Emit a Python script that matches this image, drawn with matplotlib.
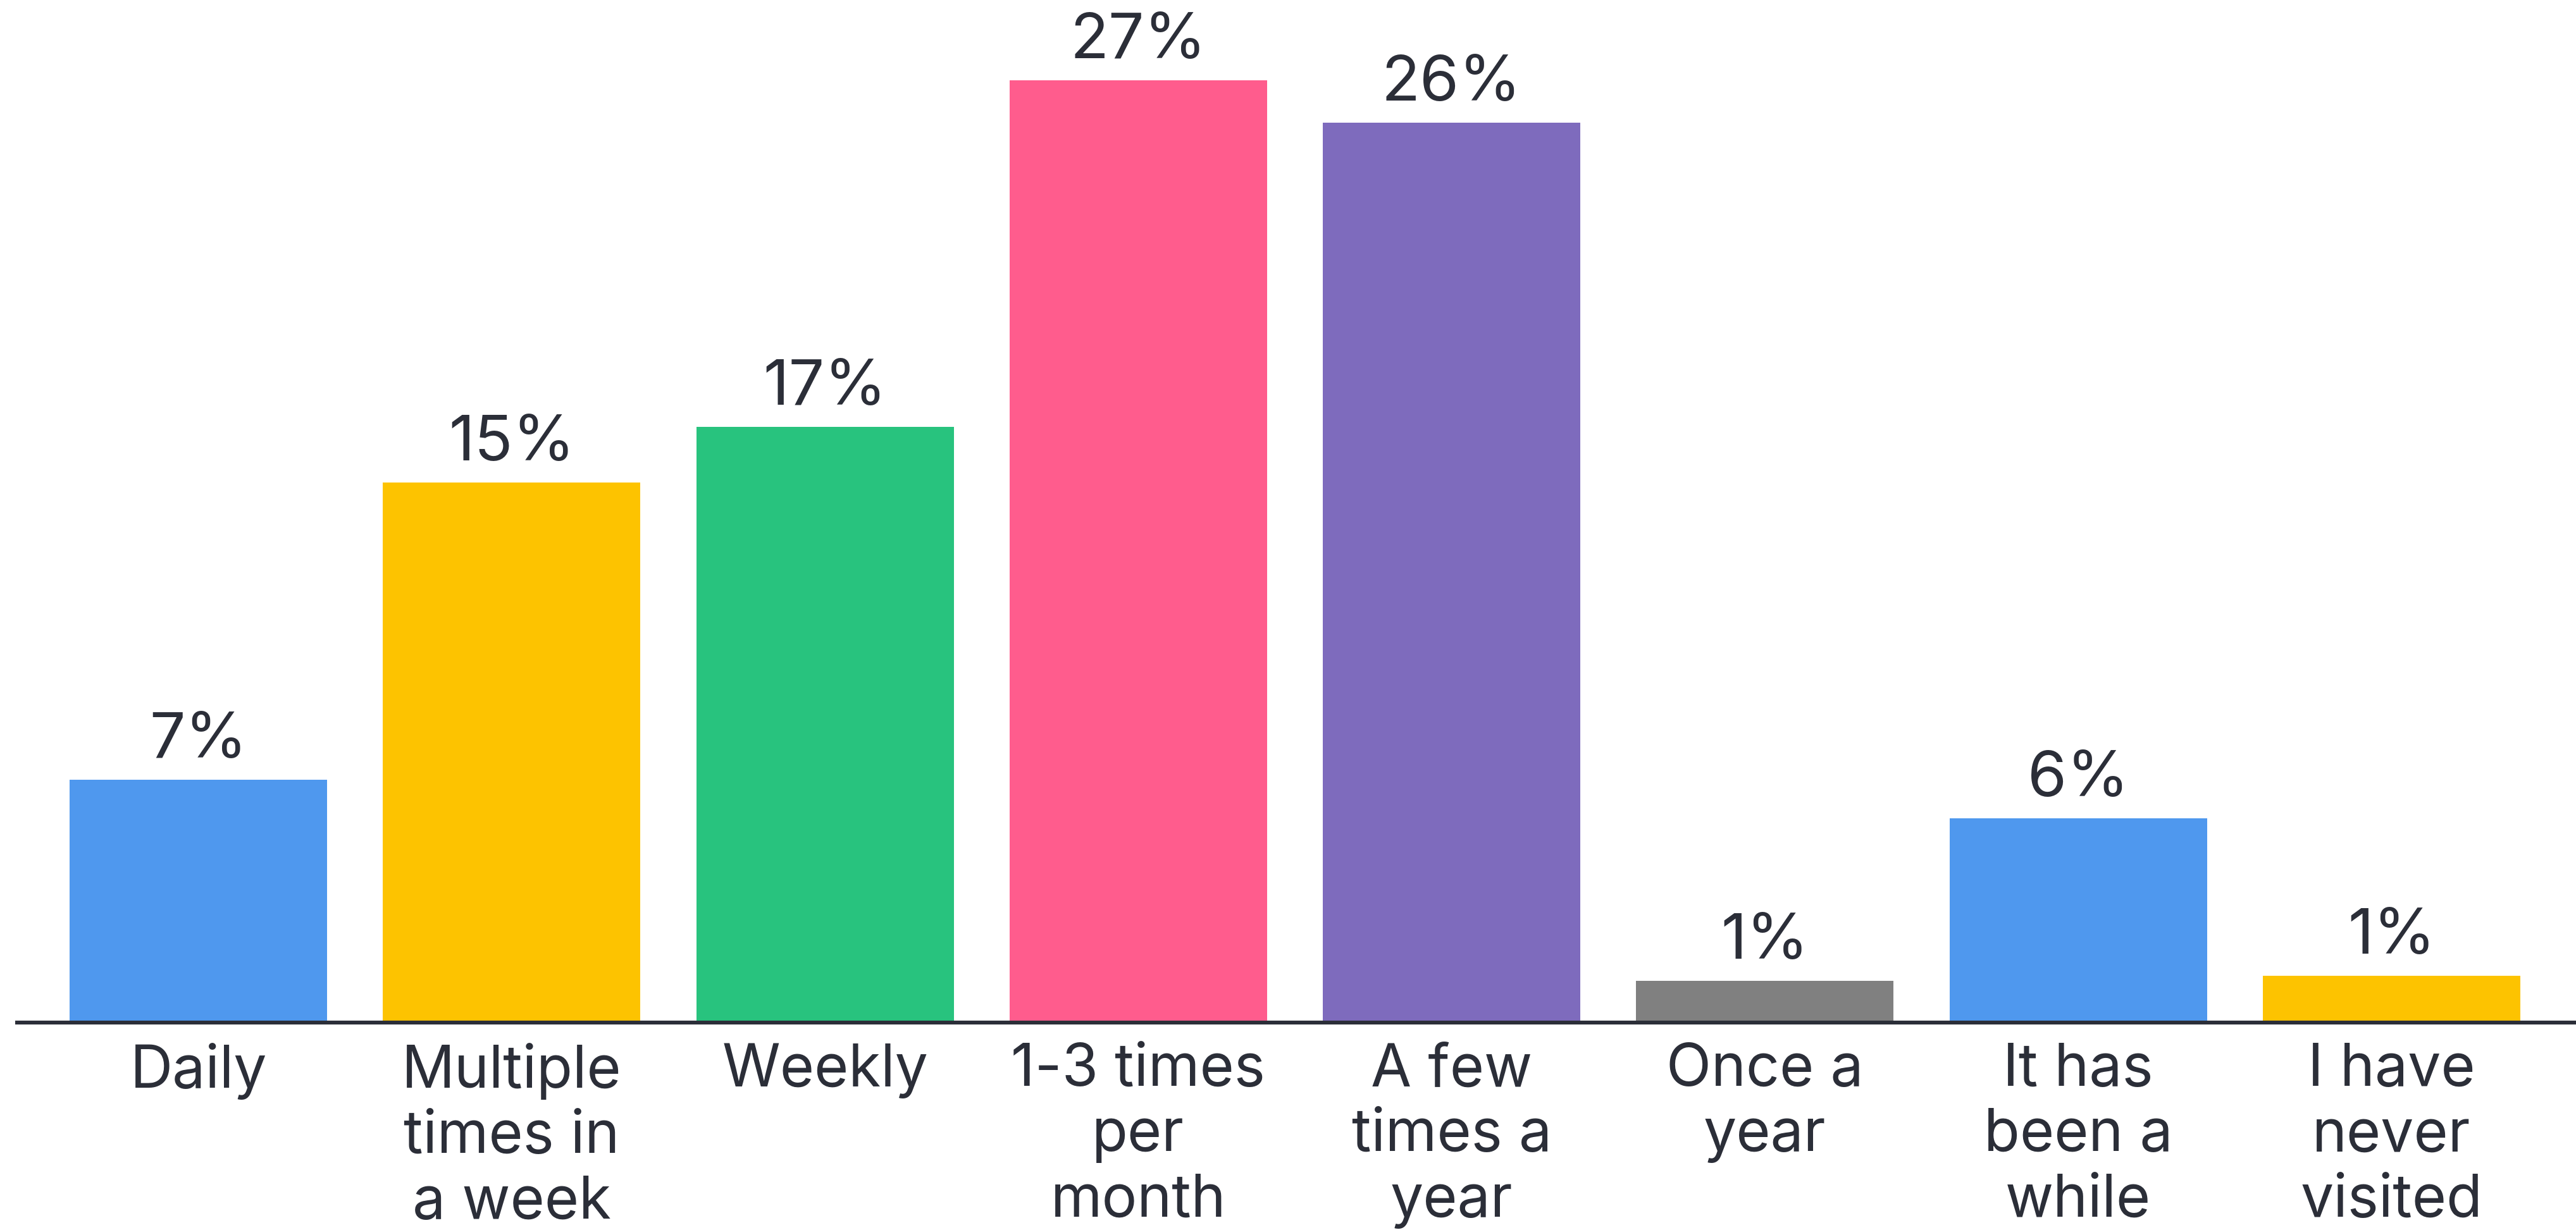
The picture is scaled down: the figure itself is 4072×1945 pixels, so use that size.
import matplotlib.pyplot as plt

# Chart data
categories = [
    'Daily',
    'Multiple\ntimes in\na week',
    'Weekly',
    '1-3 times\nper\nmonth',
    'A few\ntimes a\nyear',
    'Once a\nyear',
    'It has\nbeen a\nwhile',
    'I have\nnever\nvisited',
]
values = [7.0, 15.5, 17.1, 27.0, 25.8, 1.25, 5.9, 1.4]
value_labels = ['7%', '15%', '17%', '27%', '26%', '1%', '6%', '1%']
bar_colors = ['#4F98EE', '#FDC300', '#28C37E', '#FF5C8D',
              '#7E6BBD', '#808080', '#4F98EE', '#FDC300']

TEXT_COLOR = '#2B2E38'
FONT = ['Inter', 'DejaVu Sans']


def draw_chart():
    fig = plt.figure(figsize=(40.72, 19.45), dpi=100)
    ax = fig.add_axes([24 / 4072, 0.1671, 1 - 24 / 4072, 0.8329])

    x = list(range(len(categories)))
    ax.bar(x, values, width=0.822, color=bar_colors, zorder=2)
    ax.axhline(0, color=TEXT_COLOR, linewidth=9.5, zorder=3)

    # value labels above the bars
    for xi, v, lab in zip(x, values, value_labels):
        ax.annotate(lab, (xi, v), xytext=(0, 25), textcoords='offset points',
                    ha='center', va='baseline', fontsize=72,
                    color=TEXT_COLOR, family=FONT)

    # category labels under the baseline
    for xi, cat in zip(x, categories):
        ax.annotate(cat, (xi, 0), xytext=(0, -21), textcoords='offset points',
                    ha='center', va='top', fontsize=67, linespacing=1.24,
                    color=TEXT_COLOR, family=FONT, annotation_clip=False)

    ax.set_xlim(-0.585, 7.589)
    ax.set_ylim(0, 29.3)
    ax.axis('off')

    fig.savefig('out.png', dpi=100, facecolor='white')


if __name__ == '__main__':
    draw_chart()
